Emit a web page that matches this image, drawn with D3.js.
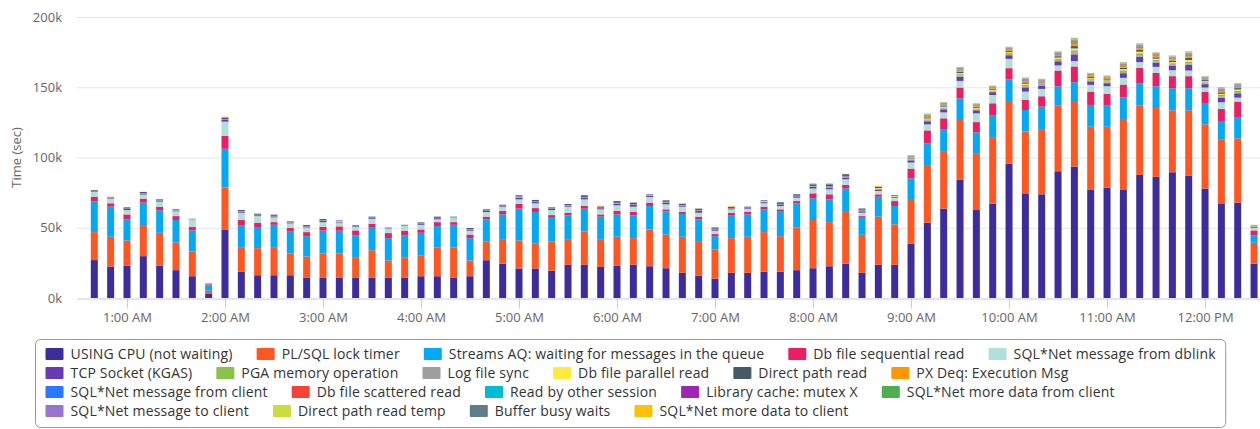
<!DOCTYPE html>
<html>
<head>
<meta charset="utf-8">
<script src="https://cdn.jsdelivr.net/npm/d3@7"></script>
<style>
  body { margin: 0; background: #fff; }
  svg { font-family: "Open Sans", sans-serif; display: block; }
</style>
</head>
<body>
<svg id="chart" width="1260" height="429"></svg>
<script>
// values in thousands of seconds, one per 10 min sample
const times = ["00:40","00:50","01:00","01:10","01:20","01:30","01:40","01:50","02:00","02:10",
  "02:20","02:30","02:40","02:50","03:00","03:10","03:20","03:30","03:40","03:50",
  "04:00","04:10","04:20","04:30","04:40","04:50","05:00","05:10","05:20","05:30",
  "05:40","05:50","06:00","06:10","06:20","06:30","06:40","06:50","07:00","07:10",
  "07:20","07:30","07:40","07:50","08:00","08:10","08:20","08:30","08:40","08:50",
  "09:00","09:10","09:20","09:30","09:40","09:50","10:00","10:10","10:20","10:30",
  "10:40","10:50","11:00","11:10","11:20","11:30","11:40","11:50","12:00","12:10",
  "12:20","12:30"];

const seriesNames = ["USING CPU (not waiting)", "PL/SQL lock timer", "Streams AQ: waiting for messages in the queue",
  "Db file sequential read", "SQL*Net message from dblink", "TCP Socket (KGAS)", "PGA memory operation",
  "Log file sync", "Db file parallel read", "Direct path read", "PX Deq: Execution Msg",
  "SQL*Net message from client", "Db file scattered read", "Read by other session", "Library cache: mutex X",
  "SQL*Net more data from client", "SQL*Net message to client", "Direct path read temp", "Buffer busy waits",
  "SQL*Net more data to client"];

const seriesColors = ["#3d2d9c", "#ff5722", "#03a9f4", "#e91e63", "#b2dfdb", "#673ab7", "#8bc34a",
  "#9e9e9e", "#ffeb3b", "#455a64", "#ff9800", "#2979ff", "#f44336", "#00bcd4", "#9c27b0",
  "#4caf50", "#9575cd", "#cddc39", "#607d8b", "#ffc107"];

const cpu = [27.0,22.4,23.1,29.8,22.9,19.8,15.5,2.9,48.8,18.6, 16.2,16.2,16.2,14.3,14.3,14.3,14.3,14.3,14.3,14.3,
  15.5,15.5,14.3,15.5,26.9,24.5,21.0,21.0,19.5,23.6, 23.6,22.1,23.1,23.8,22.6,21.2,17.9,16.0,13.8,17.9,
  17.9,18.8,18.8,19.8,21.2,22.6,24.5,17.9,23.6,23.6, 38.6,53.6,63.6,84.3,62.6,67.1,95.5,74.5,73.8,90.2,
  93.6,76.9,78.6,76.9,87.6,86.2,89.5,86.9,77.9,66.9, 67.9,24.5];
const plsqlLock = [19.9,21.2,17.9,22.1,23.5,19.7,17.6,2.3,29.8,17.6, 19.3,20.0,15.5,15.2,17.4,17.4,14.3,19.7,12.4,14.3,
  14.7,20.5,21.7,11.2,13.3,17.4,20.0,17.6,20.7,18.3, 23.8,19.8,20.5,18.8,26.2,24.0,25.7,24.5,20.7,24.7,
  25.7,28.1,25.2,30.4,34.3,31.4,37.4,27.1,34.3,28.8, 31.2,40.4,40.4,43.1,40.0,46.9,44.7,44.1,46.4,46.7,
  46.6,45.0,43.3,50.5,49.3,49.0,44.1,46.7,45.7,45.7, 45.7,14.8];
const streamsAQ = [21.9,21.4,15.0,16.0,16.0,16.0,15.0,3.8,27.6,15.7, 15.0,15.9,15.9,14.5,16.2,16.2,15.9,16.0,15.9,15.9,
  16.2,15.2,16.1,15.9,15.8,17.6,22.6,22.6,16.9,16.9, 16.2,16.0,15.9,16.2,16.7,16.5,16.2,15.5,9.5,16.4,
  15.9,16.2,17.4,17.2,15.5,16.2,16.0,12.1,14.2,13.1, 15.4,16.2,16.2,14.7,15.3,16.2,15.3,15.2,16.0,13.8,
  13.4,15.5,15.0,15.5,15.7,15.5,15.7,15.7,15.2,13.4, 15.2,5.2];
const dbSeqRead = [3.3,2.4,3.5,2.8,2.6,2.8,2.4,0.8,9.3,3.6, 3.1,1.9,2.2,2.9,2.8,3.1,3.6,2.9,3.6,3.4,
  2.4,2.8,1.9,2.6,1.9,2.4,3.5,2.8,1.9,1.9, 1.9,1.6,2.6,2.4,2.4,1.4,1.4,1.9,1.5,1.7,
  1.7,1.9,1.7,1.6,3.5,3.6,2.6,1.2,1.7,3.5, 6.9,9.1,7.7,7.7,7.3,8.4,8.1,7.4,7.4,11.2,
  11.2,9.5,8.3,9.0,11.2,9.5,8.6,8.6,8.1,8.5, 11.0,3.6];
const dblink = [3.6,3.3,3.1,2.9,3.6,3.4,5.0,0.6,10.0,5.2, 4.7,3.4,3.3,3.3,3.3,2.3,2.4,3.5,3.3,3.3,
  3.3,2.0,2.9,2.7,3.3,3.1,3.1,3.4,3.6,4.3, 4.7,3.6,3.9,3.8,4.0,3.6,3.8,2.8,2.4,2.4,
  2.4,2.4,2.4,2.4,3.4,3.6,4.0,2.4,2.4,2.4, 4.3,4.3,4.2,4.7,6.2,5.9,6.6,5.7,5.2,3.6,
  3.8,4.8,5.5,4.8,4.1,4.3,4.2,4.0,2.9,4.8, 2.8,1.9];
const tcpSocket = [.5,.4,.8,.8,.6,.5,.2,.1,1.2,.8, .6,.7,.5,.7,.9,.5,.5,.6,.3,.3,
  .7,.8,.3,.8,.8,.5,1.0,.9,.8,.7, 1.1,.8,1.2,1.2,.7,1.3,.8,1.3,1.0,.7,
  .6,.8,1.1,1.0,1.2,1.2,1.2,1.0,1.0,.6, 1.6,2.2,2.2,3.0,2.2,2.0,2.6,3.0,2.2,3.0,
  4.8,2.5,2.2,3.3,3.9,3.1,3.1,4.0,2.4,3.2, 3.1,.6];
const pgaMemory = [0,0,0,0,0,0,0,0,0,0, 0,0,0,0,0,0,0,0,0,0,
  0,0,0,0,0,0,.6,0,0,0, 0,0,0,0,.4,0,0,0,0,0,
  0,0,0,0,0,0,0,0,0,0, .4,.6,.6,.8,.6,.5,.7,.8,.6,.8,
  1.3,.7,.6,.9,1.1,.8,.8,1.1,.6,.9, .8,.1];
const logFileSync = [.2,.3,.3,.3,.3,.4,.3,.1,.6,.4, .4,.4,.3,.3,.4,.3,.2,.3,.2,.3,
  .3,.3,.5,.3,.3,.3,.5,.5,.3,.4, .6,.4,.6,.5,.4,.5,.4,.6,.5,.3,
  .2,.3,.4,.4,.7,.8,.8,.6,.5,.3, .5,.8,.7,1.0,.7,.7,.9,1.0,.7,1.0,
  1.6,.9,.8,1.1,1.3,1.1,1.1,1.3,.8,1.1, 1.1,.2];
const dbParallelRead = [0,.2,0,0,0,0,.2,0,0,0, 0,0,0,0,0,.6,0,0,0,0,
  0,0,0,0,0,0,0,0,0,0, 0,0,0,0,0,0,0,0,0,0,
  0,.4,0,0,0,0,0,0,.5,.5, .4,.6,.6,.8,.5,.5,.7,.8,.5,.8,
  1.3,.7,.6,.9,1.1,.8,.8,1.1,.7,.8, .8,.2];
const directPathRead = [.5,.3,.8,.8,.7,.5,.2,.1,1.0,.7, .7,.8,.6,.7,.9,.5,.5,.6,.2,.3,
  .7,.8,.2,.8,.8,.6,.8,1.0,.8,.8, 1.2,.8,1.2,1.2,.4,1.0,.9,1.0,.8,.7,
  .6,.6,1.1,1.0,1.0,1.2,1.0,.8,.8,.5, .6,.8,.8,1.0,.7,.7,.9,1.0,.7,1.0,
  1.7,.9,.8,1.1,1.3,1.0,1.0,1.4,.8,1.1, 1.0,.2];
const pxDeq = [0,.2,0,0,0,0,0,0,.7,0, 0,0,0,0,0,0,0,0,0,0,
  0,0,0,0,0,0,0,0,0,0, 0,.4,0,0,0,0,0,0,0,.4,
  0,0,0,0,0,0,0,0,.5,0, .6,.8,.7,1.0,.7,.7,.8,1.0,.7,1.0,
  1.7,.8,.8,1.1,1.3,1.1,1.1,1.4,.8,1.0, 1.1,.2];
const netFromClient = [0,0,0,0,0,0,0,0,0,0, 0,0,0,0,0,0,0,0,0,0,
  0,0,0,0,0,0,0,0,0,0, 0,0,0,0,0,0,0,0,0,0,
  0,0,0,0,0,0,0,0,0,0, .2,.3,.3,.4,.3,.2,.3,.4,.3,.4,
  .6,.3,.3,.4,.5,.4,.4,.5,.3,.4, .4,.1];
const dbScatteredRead = [0,0,0,0,0,0,0,0,0,0, 0,0,0,0,0,0,0,0,0,0,
  0,0,0,0,0,0,0,0,0,0, 0,0,0,0,0,0,0,0,0,0,
  0,0,0,0,0,0,0,0,0,0, .1,.2,.2,.3,.2,.2,.3,.3,.2,.3,
  .5,.2,.2,.3,.4,.3,.3,.4,.2,.3, .3,0];
const readByOther = [0,0,0,0,0,0,0,0,0,0, 0,0,0,0,0,0,0,0,0,0,
  0,0,0,0,0,0,0,0,0,0, 0,0,0,0,0,0,0,0,0,0,
  0,0,0,0,0,0,0,0,0,0, .1,.2,.2,.3,.2,.2,.2,.3,.2,.3,
  .5,.2,.2,.3,.4,.3,.3,.4,.2,.3, .3,0];
const libraryCache = [0,0,0,0,0,0,0,0,0,0, 0,0,0,0,0,0,0,0,0,0,
  0,0,0,0,0,0,0,0,0,0, 0,0,0,0,0,0,0,0,0,0,
  0,0,0,0,0,0,0,0,0,0, .1,.2,.2,.3,.2,.2,.2,.3,.2,.3,
  .5,.2,.2,.3,.4,.3,.3,.4,.2,.3, .3,.1];
const moreFromClient = [0,0,0,0,0,0,0,0,0,0, 0,0,0,0,0,0,0,0,0,0,
  0,0,0,0,0,0,0,0,0,0, 0,0,0,0,0,0,0,0,0,0,
  0,0,0,0,0,0,0,0,0,0, .2,.2,.2,.3,.2,.2,.2,.3,.2,.3,
  .5,.3,.2,.3,.4,.3,.3,.4,.3,.3, .3,0];
const netToClient = [0,0,0,0,0,0,0,0,0,0, 0,0,0,0,0,0,0,0,0,0,
  0,0,0,0,0,0,0,0,0,0, 0,0,0,0,0,0,0,0,0,0,
  0,0,0,0,0,0,0,0,0,0, .2,.2,.2,.3,.2,.2,.3,.3,.2,.3,
  .5,.3,.2,.4,.4,.3,.3,.4,.3,.3, .3,.1];
const directPathTemp = [0,0,0,0,0,0,0,0,0,0, 0,0,0,0,0,0,0,0,0,0,
  0,0,0,0,0,0,0,0,0,0, 0,0,0,0,0,0,0,0,0,0,
  0,0,0,0,0,0,0,0,0,0, .1,.2,.2,.2,.2,.2,.2,.2,.2,.3,
  .4,.2,.2,.3,.3,.3,.3,.4,.2,.3, .3,.1];
const bufferBusy = [0,0,0,0,0,0,0,0,0,0, 0,0,0,0,0,0,0,0,0,0,
  0,0,0,0,0,0,0,0,0,0, 0,0,0,0,0,0,0,0,0,0,
  0,0,0,0,.6,.8,.8,.7,0,0, .1,.2,.2,.2,.2,.1,.2,.2,.2,.2,
  .4,.2,.2,.3,.3,.2,.2,.3,.2,.3, .2,.1];
const moreToClient = [0,0,0,0,0,0,0,0,0,0, 0,0,0,0,0,0,0,0,0,0,
  0,0,0,0,0,0,0,0,0,0, 0,0,0,0,0,0,0,0,0,0,
  0,0,0,0,0,0,0,0,0,0, .1,.1,.1,.1,.1,.1,.1,.1,.1,.2,
  .3,.1,.1,.2,.2,.2,.2,.1,.1,.1, .2,.1];

const seriesValues = [cpu, plsqlLock, streamsAQ, dbSeqRead, dblink, tcpSocket, pgaMemory, logFileSync,
  dbParallelRead, directPathRead, pxDeq, netFromClient, dbScatteredRead, readByOther, libraryCache,
  moreFromClient, netToClient, directPathTemp, bufferBusy, moreToClient];

const yTicks = [0, 50, 100, 150, 200];

const parseTime = d3.timeParse("%H:%M");

let rows = times.map((t, i) => {
  let r = {time: parseTime(t)};
  seriesNames.forEach((n, j) => r[n] = seriesValues[j][i]);
  return r;
});

const svg = d3.select("#chart");

const plot = {left: 77, right: 1260, top: 17, bottom: 298, barW: 7};

const x = d3.scaleTime()
  .domain([parseTime("00:29").getTime() + 24000, parseTime("12:41").getTime() + 36000])
  .range([plot.left, 1273]);

const y = d3.scaleLinear()
  .domain([0, 200])
  .range([plot.bottom, plot.top]);

const color = d3.scaleOrdinal().domain(seriesNames).range(seriesColors);

// grid
svg.append("g")
  .attr("class", "grid")
.selectAll("line")
  .data(yTicks.filter(d => d > 0))
  .join("line")
    .attr("x1", plot.left)
    .attr("x2", plot.right)
    .attr("y1", d => y(d) + 0.5)
    .attr("y2", d => y(d) + 0.5)
    .attr("stroke", "#e6e6e6");

svg.append("g")
  .selectAll("text")
  .data(yTicks)
  .join("text")
    .attr("x", 62)
    .attr("y", d => y(d))
    .attr("dy", "0.35em")
    .attr("text-anchor", "end")
    .attr("fill", "#666")
    .style("font-size", "13px")
    .text(d => `${d}k`);

svg.append("text")
  .attr("transform", `translate(16, ${(plot.top + plot.bottom) / 2}) rotate(-90)`)
  .attr("text-anchor", "middle")
  .attr("dy", "0.35em")
  .attr("fill", "#666")
  .style("font-size", "13px")
  .text("Time (sec)");

// stacked columns
const stack = d3.stack().keys(seriesNames);
const layers = stack(rows);

svg.append("g")
  .attr("class", "bars")
.selectAll("g")
  .data(layers)
  .join("g")
    .attr("fill", d => color(d.key))
  .selectAll("rect")
  .data(d => d)
  .join("rect")
    .attr("x", d => x(d.data.time) - plot.barW / 2)
    .attr("width", plot.barW)
    .attr("y", d => y(d[1]))
    .attr("height", d => Math.max(0, y(d[0]) - y(d[1])));

// x axis
const xAxis = svg.append("g")
  .attr("transform", `translate(0, ${plot.bottom + 0.5})`)
  .call(d3.axisBottom(x)
    .ticks(d3.timeHour.every(1))
    .tickFormat(d3.timeFormat("%-I:%M %p"))
    .tickSize(10)
    .tickSizeOuter(0)
    .tickPadding(4));

xAxis.select(".domain").attr("stroke", "#ccc8e8");
xAxis.selectAll(".tick line").attr("stroke", "#ccc8e8");
xAxis.selectAll(".tick text")
  .attr("fill", "#666")
  .style("font-size", "13px")
  .style("font-family", "'Open Sans', sans-serif");

// legend
const legend = {top: 339, padding: 10, rowH: 19, firstRow: 354, symW: 18, symH: 12, textX: 25, gap: 24, maxRight: 1255};

const lg = svg.append("g").attr("class", "legend");
const box = lg.append("rect")
  .attr("fill", "white")
  .attr("stroke", "#999")
  .attr("rx", 5);

const items = lg.selectAll("g.item")
  .data(seriesNames)
  .join("g")
    .attr("class", "item");

items.append("rect")
  .attr("width", legend.symW)
  .attr("height", legend.symH)
  .attr("y", -legend.symH / 2)
  .attr("rx", 1)
  .attr("fill", d => color(d));

items.append("text")
  .attr("x", legend.textX)
  .attr("dy", "0.35em")
  .attr("fill", "#333")
  .style("font-size", "14px")
  .style("letter-spacing", "0.18px")
  .text(d => d);

// flow layout like the original legend
let widths = [];
items.select("text").each(function() { widths.push(legend.textX + this.getComputedTextLength()); });

let pos = [];
let cx = 0, row = 0, maxW = 0;
widths.forEach((w, i) => {
  if (i > 0 && cx + w > legend.maxRight - 46) {
    row++;
    cx = 0;
  }
  pos.push({x: cx, row: row});
  maxW = Math.max(maxW, cx + w);
  cx += w + legend.gap;
});

const boxW = maxW + legend.padding * 2;
const boxX = Math.round(630 - boxW / 2) + 0.5;
const boxH = (row + 1) * legend.rowH + 12;

box.attr("x", boxX)
  .attr("y", legend.top + 0.5)
  .attr("width", boxW)
  .attr("height", boxH);

items.attr("transform", (d, i) => `translate(${boxX + legend.padding + pos[i].x}, ${legend.firstRow + pos[i].row * legend.rowH})`);
</script>
</body>
</html>
